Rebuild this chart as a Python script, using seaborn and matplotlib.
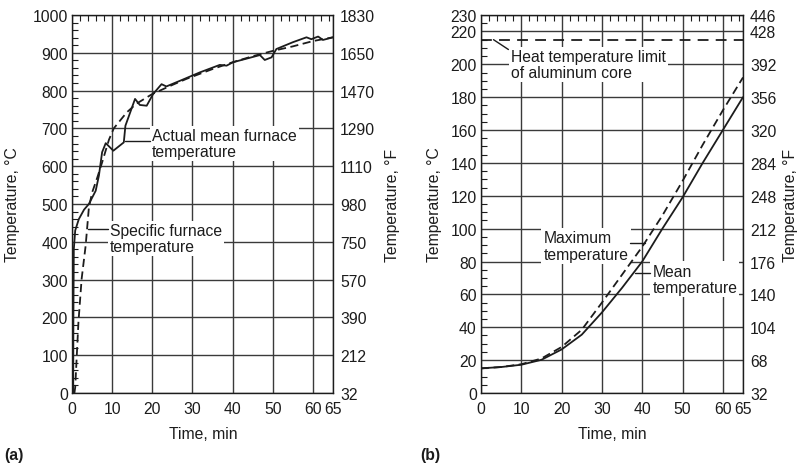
import matplotlib
matplotlib.use("Agg")
import matplotlib.pyplot as plt
from matplotlib.ticker import MultipleLocator
import numpy as np
import pandas as pd
import seaborn as sns

# ---- (a) furnace temperatures -------------------------------------------
time_actual = [0.3, 0.35, 0.45, 0.8, 1.7, 3.0, 4.2, 5.9, 6.7, 7.5, 8.4, 10.3,
               12.9, 13.3, 15.7, 16.9, 18.6, 20.2, 22.3, 23.5, 26.9, 31.8,
               36.8, 38.5, 40.1, 46.8, 48.0, 49.7, 50.9, 55.0, 58.4, 59.6,
               61.3, 62.5, 65.0]
temp_actual = [0, 200, 380, 430, 460, 485, 500, 535, 575, 637, 661, 641,
               663, 707, 778, 762, 760, 791, 817, 811, 826, 848,
               868, 866, 875, 894, 881, 888, 910, 928, 941, 936,
               943, 934, 941]

time_specified = [0.6, 0.8, 1.6, 2.4, 3.4, 4.2, 5.0, 6.3, 7.5, 9.2, 10.4,
                  13.6, 16.0, 20.0, 25.0, 28.5, 35.0, 40.0, 45.0, 50.0,
                  55.0, 60.0, 65.0]
temp_specified = [0, 15, 187, 302, 390, 490, 530, 570, 610, 670, 700,
                  742, 765, 791, 815, 831, 857, 875, 891, 905,
                  917, 931, 941]

a_c_ticks = [0, 100, 200, 300, 400, 500, 600, 700, 800, 900, 1000]
a_f_labels = ["32", "212", "390", "570", "750", "980", "1110", "1290",
              "1470", "1650", "1830"]

# ---- (b) aluminum core temperatures --------------------------------------
time_core = [0, 5, 10, 15, 20, 25, 30, 35, 40, 45, 50, 55, 60, 65]
temp_mean = [15, 15.8, 17.2, 20.2, 26.5, 35.5, 49, 64, 80, 100, 119,
             140, 160, 180]
temp_max = [15, 15.8, 17.5, 21, 28, 38.5, 55, 72, 89, 108, 129, 151, 172, 192]
core_limit = 215

b_c_ticks = [0, 20, 40, 60, 80, 100, 120, 140, 160, 180, 200, 220, 230]
b_f_labels = ["32", "68", "104", "140", "176", "212", "248", "284", "320",
              "356", "392", "428", "446"]

time_ticks = [0, 10, 20, 30, 40, 50, 60, 65]

# ---- style ---------------------------------------------------------------
sns.set_style("white")
plt.rcParams["font.family"] = ["Liberation Sans", "DejaVu Sans"]
plt.rcParams["font.size"] = 11

INK = "#1c1c1c"
GRID = "#3a3a3a"
FS = 11.3
LW = 1.3

W, H = 800, 464
fig = plt.figure(figsize=(W / 100, H / 100), dpi=100)
fig.patch.set_facecolor("white")


def px_axes(x0, x1, y0, y1):
    return fig.add_axes([x0 / W, 1 - y1 / H, (x1 - x0) / W, (y1 - y0) / H])


def style(ax, ymax, c_ticks, f_labels, y_minor):
    ax.set_xlim(0, 65)
    ax.set_ylim(0, ymax)
    ax.set_xticks(time_ticks)
    ax.set_xticklabels([str(t) for t in time_ticks])
    ax.set_yticks(c_ticks)
    ax.set_yticklabels([str(c) for c in c_ticks])
    ax.xaxis.set_minor_locator(MultipleLocator(2))
    ax.yaxis.set_minor_locator(MultipleLocator(y_minor))
    ax.tick_params(which="both", direction="in", top=True, right=True,
                   colors=INK, labelsize=FS)
    ax.tick_params(which="major", length=0)
    ax.tick_params(axis="x", which="major", pad=6)
    ax.tick_params(axis="y", which="major", pad=3)
    ax.tick_params(which="minor", length=4, width=0.8)
    ax.set_axisbelow(True)
    ax.grid(True, which="major", color=GRID, linewidth=1.0)
    for s in ax.spines.values():
        s.set_visible(True)
        s.set_color(INK)
        s.set_linewidth(1.0)
    ax.set_xlabel("")
    ax.set_ylabel("")
    tw = ax.twinx()
    tw.set_ylim(0, ymax)
    tw.set_yticks(c_ticks)
    tw.set_yticklabels(f_labels)
    tw.tick_params(length=0, pad=5, labelsize=FS, colors=INK)
    for s in tw.spines.values():
        s.set_visible(False)
    return tw


def label(ax, x, y, s):
    ax.text(x, y, s, ha="left", va="center", fontsize=FS, color=INK,
            linespacing=1.1, zorder=3,
            bbox=dict(facecolor="white", edgecolor="none", pad=1.5))


def leader(ax, xs, ys):
    ax.plot(xs, ys, color=INK, linewidth=1.0, zorder=4)


# ---- panel (a) ------------------------------------------------------------
ax1 = px_axes(72, 333, 16, 394)
df_act = pd.DataFrame({"time": time_actual, "temp": temp_actual})
df_spec = pd.DataFrame({"time": time_specified, "temp": temp_specified})
sns.lineplot(data=df_act, x="time", y="temp", ax=ax1, color=INK,
             linewidth=LW, estimator=None, zorder=5)
sns.lineplot(data=df_spec, x="time", y="temp", ax=ax1, color=INK,
             linewidth=LW, estimator=None, zorder=5)
ax1.lines[-1].set_dashes([4.5, 2.5])
style(ax1, 1000, a_c_ticks, a_f_labels, 20)

label(ax1, 19.9, 660, "Actual mean furnace\ntemperature")
leader(ax1, [13.2, 19.5], [667, 667])
label(ax1, 9.5, 409, "Specific furnace\ntemperature")
leader(ax1, [4.0, 9.0], [434, 434])

# ---- panel (b) ------------------------------------------------------------
ax2 = px_axes(481, 743, 16, 394)
df_core = pd.DataFrame({"time": time_core, "mean": temp_mean, "max": temp_max})
sns.lineplot(data=df_core, x="time", y="mean", ax=ax2, color=INK,
             linewidth=LW, estimator=None, zorder=5)
sns.lineplot(data=df_core, x="time", y="max", ax=ax2, color=INK,
             linewidth=LW, estimator=None, zorder=5)
ax2.lines[-1].set_dashes([4.5, 2.5])
ax2.axhline(core_limit, color=INK, linewidth=LW, dashes=(6, 4), zorder=5)
style(ax2, 230, b_c_ticks, b_f_labels, 5)

label(ax2, 7.5, 200, "Heat temperature limit\nof aluminum core")
leader(ax2, [3.1, 6.8], [215, 209])
label(ax2, 15.5, 89.4, "Maximum\ntemperature")
leader(ax2, [36.9, 40.6], [91.4, 91.4])
label(ax2, 42.5, 69.3, "Mean\ntemperature")
leader(ax2, [38.3, 42.0], [73.2, 73.2])


# ---- figure-level titles ---------------------------------------------------
def ftext(x, y, s, **kw):
    fig.text(x / W, 1 - y / H, s, fontsize=FS, color=INK, **kw)


ftext(13, 205, "Temperature, °C", rotation=90, ha="center", va="center")
ftext(393, 205, "Temperature, °F", rotation=90, ha="center", va="center")
ftext(434, 205, "Temperature, °C", rotation=90, ha="center", va="center")
ftext(791, 205, "Temperature, °F", rotation=90, ha="center", va="center")
ftext(203, 435, "Time, min", ha="center", va="center")
ftext(612, 435, "Time, min", ha="center", va="center")
ftext(4, 456, "(a)", ha="left", va="center", fontweight="bold")
ftext(420, 456, "(b)", ha="left", va="center", fontweight="bold")

fig.savefig("out.png", dpi=100, facecolor="white")
